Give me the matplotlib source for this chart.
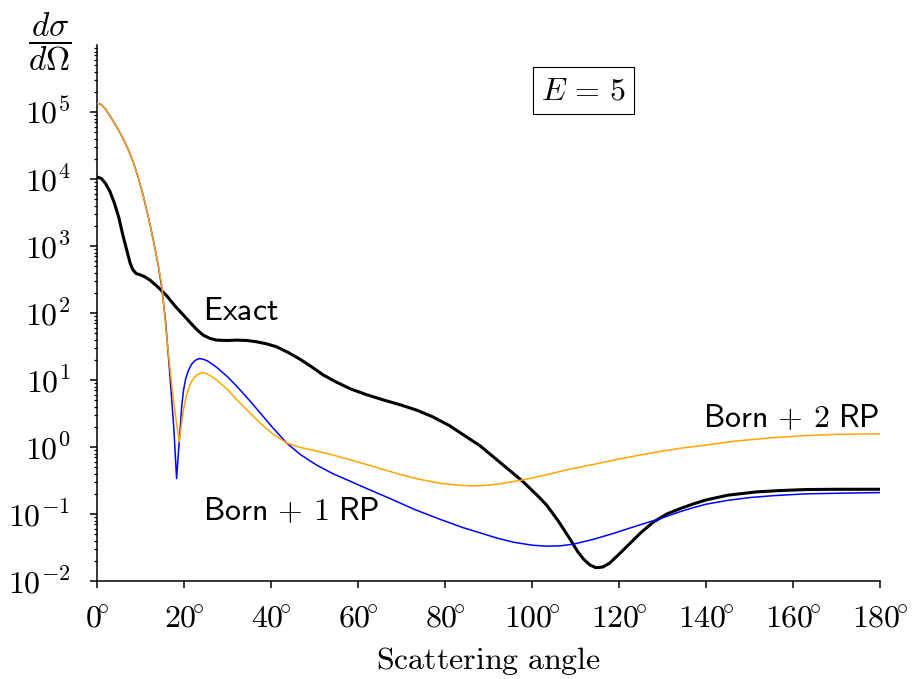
import matplotlib
matplotlib.use("Agg")
import matplotlib.pyplot as plt
from matplotlib.ticker import FixedLocator, LogLocator, NullFormatter

plt.rcParams["mathtext.fontset"] = "cm"
plt.rcParams["font.family"] = "serif"

# Differential cross section at E = 5
angle_exact = [0, 1, 2, 3, 4, 5, 6, 7, 7.6, 8.2, 9.0, 9.9, 11, 12.2, 14, 16, 18,
               20, 21.4, 23, 24.4, 26, 27.5, 30, 32.1, 34.5, 36.7, 39, 41.3, 44,
               46.7, 49.5, 52, 55, 58.2, 62, 66, 69.7, 73.5, 77.2, 81, 85, 88, 91,
               94.5, 98, 101.8, 103.4, 106, 108.7, 110.5, 111.8, 113.3, 114.7,
               116.3, 117.9, 120, 122.5, 125, 127.9, 131, 134, 137, 140, 145, 151.6,
               157, 163, 170, 180]
sigma_exact = [10700, 10200, 8510, 6460, 4370, 2690, 1410, 794, 562, 447, 389, 372,
               347, 309, 245, 182, 126, 91.2, 72.4, 56.2, 46.8, 41.7, 39.4, 38.9,
               39.4, 38.9, 37.2, 34.7, 31.3, 25.7, 20.4, 15.5, 11.9, 9.33, 7.41,
               6.03, 5.01, 4.27, 3.55, 2.82, 2.09, 1.41, 1.05, 0.724, 0.468, 0.302,
               0.174, 0.135, 0.0794, 0.0427, 0.0275, 0.0214, 0.0174, 0.0158, 0.0162,
               0.0186, 0.0251, 0.0363, 0.0525, 0.0759, 0.100, 0.120, 0.141, 0.162,
               0.191, 0.214, 0.224, 0.232, 0.234, 0.234]

angle_rp1 = [0, 1, 2, 3, 4.5, 6.05, 7.2, 8.35, 9.5, 10.6, 11.8, 12.95, 14.0, 14.9,
             15.8, 16.8, 17.7, 18.3, 19.1, 19.5, 19.9, 20.4, 21.0, 21.7, 22.5, 23.5,
             24.5, 25.5, 27.5, 30, 32.1, 35, 37.5, 40.5, 43.6, 46.7, 50.5, 54.3,
             58.2, 62, 67.4, 73, 78.9, 84, 88, 92, 95.7, 100, 103.4, 106.5, 109.5,
             114, 118.7, 122.5, 126.4, 129.4, 134, 137, 140, 145, 150, 155.5, 163,
             170, 180]
sigma_rp1 = [1.35e5, 1.29e5, 1.10e5, 8.71e4, 6.03e4, 3.98e4, 2.75e4, 1.78e4,
             1.05e4, 5750, 2750, 1230, 550, 240, 70.8, 11.2, 1.78, 0.339, 1.78,
             4.17, 7.08, 10.5, 13.8, 17.0, 19.5, 20.9, 20.4, 19.1, 15.5, 11.2, 8.13,
             5.01, 3.24, 1.91, 1.15, 0.776, 0.537, 0.398, 0.309, 0.240, 0.170,
             0.117, 0.0832, 0.0631, 0.0525, 0.0437, 0.0380, 0.0343, 0.0331, 0.0335,
             0.0355, 0.0417, 0.0513, 0.0617, 0.0741, 0.0851, 0.108, 0.124, 0.140,
             0.160, 0.176, 0.188, 0.200, 0.204, 0.209]

angle_rp2 = [0, 1, 2, 3, 4.5, 6.05, 7.2, 8.35, 9.5, 10.6, 11.8, 12.95, 14.0, 14.9,
             16.0, 17.0, 17.5, 18.2, 18.9, 19.4, 19.9, 20.5, 21.2, 22.0, 23.0, 24.0,
             25.0, 26.2, 27.5, 30, 32.1, 35, 37.5, 40.5, 43.6, 46.7, 50.5, 54, 58.2,
             64, 69.7, 74, 78.9, 83, 86.5, 90, 92.6, 98, 103, 108, 115.6, 120, 124.8,
             130, 134, 140, 147, 155.5, 163, 170.8, 180]
sigma_rp2 = [1.35e5, 1.29e5, 1.10e5, 8.71e4, 6.03e4, 3.98e4, 2.75e4, 1.78e4,
             1.05e4, 5750, 2750, 1230, 560, 263, 44.7, 11.2, 5.62, 2.51, 1.20, 2.14,
             3.63, 5.62, 7.94, 10.2, 12.0, 12.9, 12.6, 11.5, 10.0, 7.24, 5.13, 3.31,
             2.29, 1.55, 1.15, 0.989, 0.871, 0.767, 0.646, 0.501, 0.389, 0.331,
             0.288, 0.269, 0.263, 0.269, 0.282, 0.324, 0.380, 0.457, 0.575, 0.661,
             0.759, 0.871, 0.955, 1.07, 1.23, 1.38, 1.48, 1.55, 1.57]

x_ticks = [0, 20, 40, 60, 80, 100, 120, 140, 160, 180]
y_ticks = [1e-2, 1e-1, 1e0, 1e1, 1e2, 1e3, 1e4, 1e5]
y_tick_labels = [r"$10^{-2}$", r"$10^{-1}$", r"$10^{0}$", r"$10^{1}$",
                 r"$10^{2}$", r"$10^{3}$", r"$10^{4}$", r"$10^{5}$"]

FS = 23

fig = plt.figure(figsize=(9.14, 6.79), dpi=100)
ax = fig.add_axes([0.1061, 0.1443, 0.8567, 0.7894])

ax.plot(angle_exact, sigma_exact, color="black", lw=2.2, zorder=3)
ax.plot(angle_rp1, sigma_rp1, color="blue", lw=1.1, zorder=4)
ax.plot(angle_rp2, sigma_rp2, color="orange", lw=1.1, zorder=5)

ax.set_yscale("log")
ax.set_xlim(0, 180)
ax.set_ylim(1e-2, 1e6)

for side in ("top", "right"):
    ax.spines[side].set_visible(False)
for side in ("left", "bottom"):
    ax.spines[side].set_linewidth(1.1)

ax.xaxis.set_major_locator(FixedLocator(x_ticks))
ax.set_xticklabels([r"$%d\!^{\circ}$" % t for t in x_ticks])
ax.yaxis.set_major_locator(FixedLocator(y_ticks))
ax.set_yticklabels(y_tick_labels)
ax.yaxis.set_minor_locator(LogLocator(base=10, subs=range(2, 10), numticks=20))
ax.yaxis.set_minor_formatter(NullFormatter())

ax.tick_params(axis="both", which="major", direction="out", length=5, width=1.1,
               labelsize=FS)
ax.tick_params(axis="x", which="major", pad=11)
ax.tick_params(axis="y", which="major", pad=14)
ax.tick_params(axis="y", which="minor", direction="out", length=2.5, width=0.9)

ax.set_xlabel(r"$\mathrm{Scattering\ angle}$", fontsize=FS, labelpad=8)
fig.text(0.0547, 0.938, r"$\dfrac{d\sigma}{d\Omega}$", fontsize=24,
         ha="center", va="center")

ax.text(24.4, 10**2.03, r"$\mathsf{Exact}$", fontsize=FS, ha="left", va="center")
ax.text(24.4, 10**-0.97, r"$\mathsf{Born}\,+\,\mathsf{1\ RP}$", fontsize=FS,
        ha="left", va="center")
ax.text(180, 10**0.43, r"$\mathsf{Born}\,+\,\mathsf{2\ RP}$", fontsize=FS,
        ha="right", va="center")

ax.text(0.621, 0.915, r"$E\,=\,5$", transform=ax.transAxes, fontsize=FS,
        ha="center", va="center",
        bbox=dict(boxstyle="square,pad=0.24", facecolor="white",
                  edgecolor="black", linewidth=0.8))

fig.savefig("out.png", dpi=100)
